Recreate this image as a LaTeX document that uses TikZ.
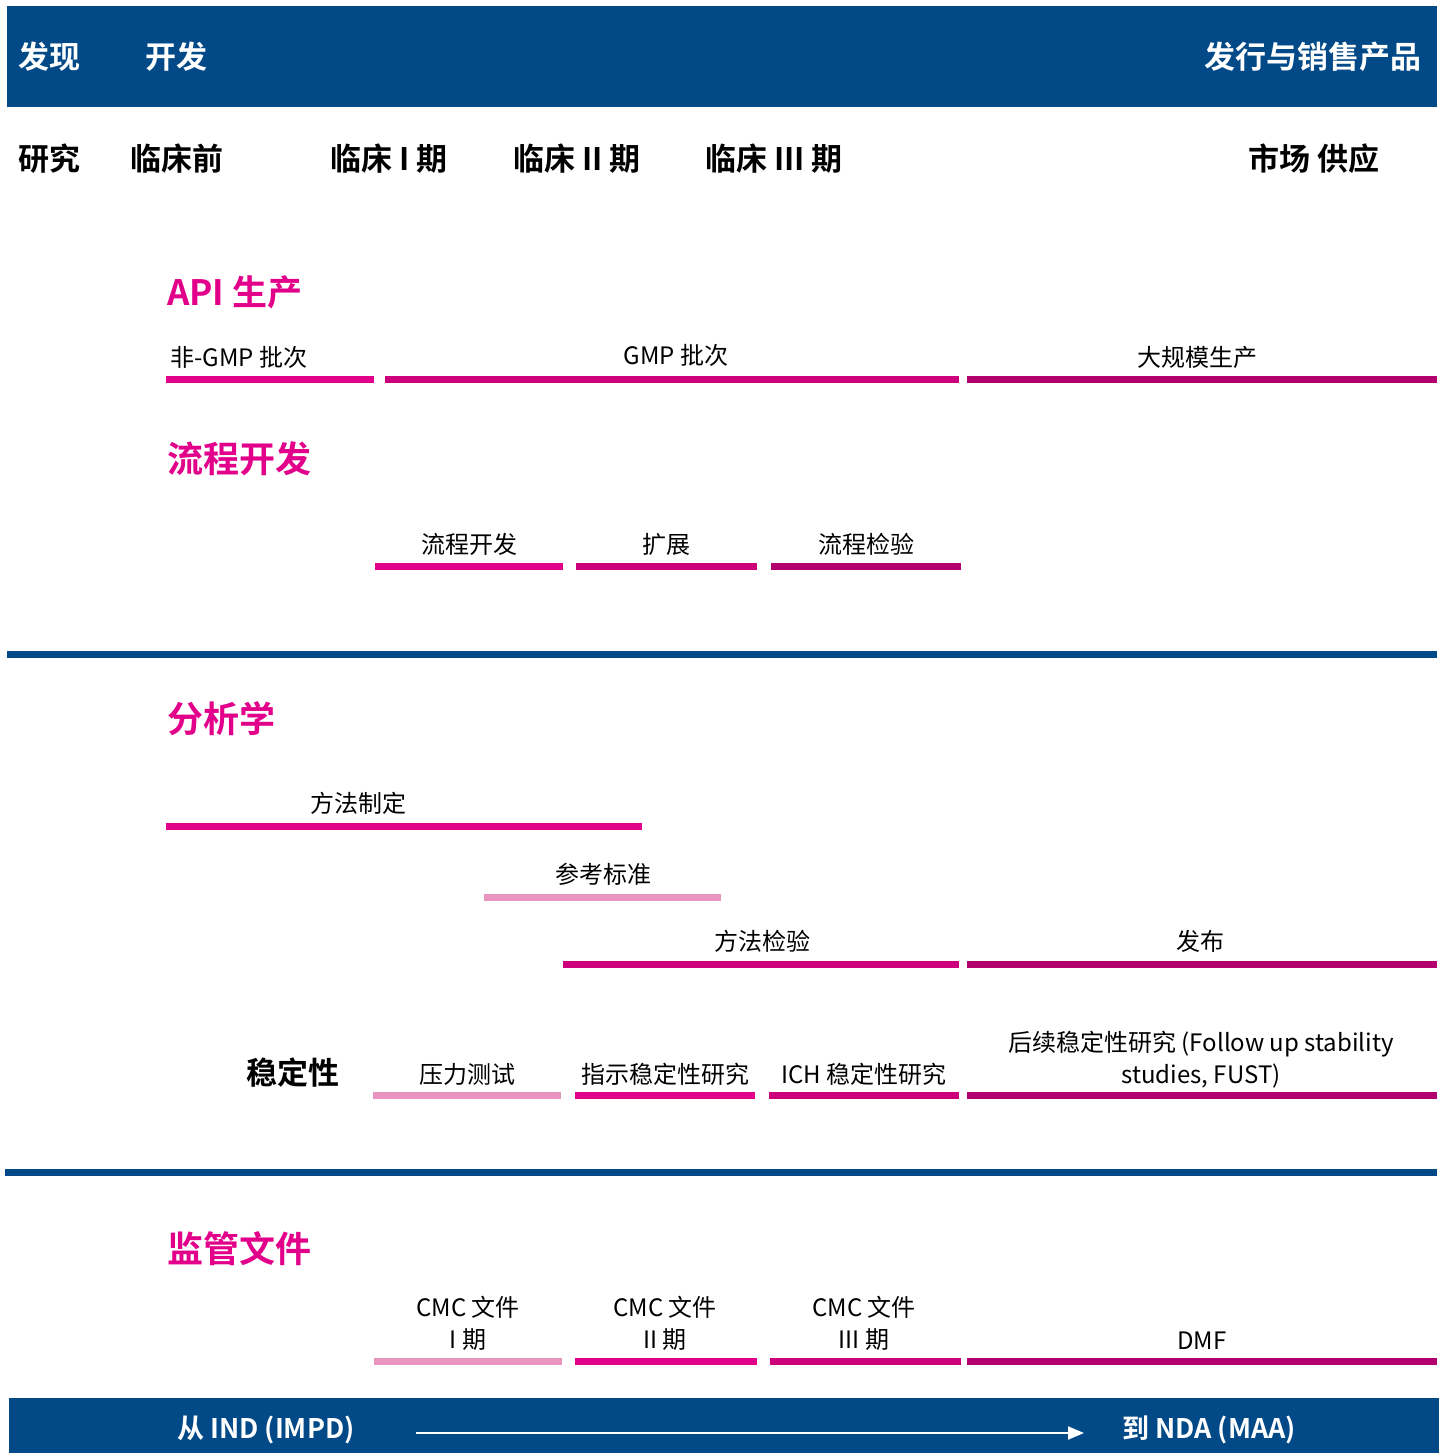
\documentclass[tikz,border=0pt]{standalone}
\usepackage{fontspec}
\setmainfont{Noto Sans CJK SC}[BoldFont={Noto Sans CJK SC Bold}]
\usetikzlibrary{arrows.meta}
\definecolor{navy}{RGB}{2,73,135}
\definecolor{magA}{RGB}{226,0,138}
\definecolor{magB}{RGB}{204,0,122}
\definecolor{magC}{RGB}{178,0,110}
\definecolor{pinkL}{RGB}{232,150,192}
\begin{document}
\begin{tikzpicture}[x=1pt,y=-1pt,
  txt/.style={inner sep=0pt,text height=#1*0.88pt,text depth=#1*0.12pt,font=\fontsize{#1}{#1}\selectfont},
  body/.style={txt=24,text=black},
  bandtxt/.style={txt=31,text=white,font=\fontsize{31}{31}\selectfont\bfseries},
  phase/.style={txt=31,text=black,font=\fontsize{31}{31}\selectfont\bfseries},
  heading/.style={txt=36,text=magA,font=\fontsize{36}{36}\selectfont\bfseries,anchor=west},
  bottomtxt/.style={txt=27,text=white,font=\fontsize{27}{27}\selectfont\bfseries},
  bar/.style={line width=7pt,draw=#1,line cap=butt},
  sep/.style={line width=7pt,draw=navy}]
\useasboundingbox (0,0) rectangle (1443,1453);
% top band
\fill[navy] (7,6) rectangle (1437,107);
\node[bandtxt,anchor=west] (disc) at (18,57) {发现};
\node[bandtxt,anchor=west] (dev) at (145,57) {开发};
\node[bandtxt,anchor=east] (launch) at (1422,57) {发行与销售产品};
% phases
\node[phase,anchor=west] (res) at (18,159) {研究};
\node[phase,anchor=west] (prec) at (130,159) {临床前};
\node[phase,anchor=west] (p1) at (330,159) {临床 I 期};
\node[phase,anchor=west] (p2) at (513,159) {临床 II 期};
\node[phase,anchor=west] (p3) at (705,159) {临床 III 期};
\node[phase,anchor=west] (mkt) at (1248,159) {市场 供应};
% API
\node[heading,txt=35,font=\fontsize{35}{35}\selectfont\bfseries] (api) at (167,292) {API 生产};
\node[body,anchor=west] (ngmp) at (170,357) {非-GMP 批次};
\node[body] (gmp) at (676,355) {GMP 批次};
\node[body] (large) at (1197,357) {大规模生产};
\draw[bar=magA] (166,379) -- (374,379);
\draw[bar=magB] (385,379) -- (959,379);
\draw[bar=magC] (967,379) -- (1437,379);
% process development
\node[heading] (pd) at (167,459) {流程开发};
\node[body] (pd1) at (469,544) {流程开发};
\node[body] (pd2) at (666,544) {扩展};
\node[body] (pd3) at (866,544) {流程检验};
\draw[bar=magA] (375,566) -- (563,566);
\draw[bar=magB] (576,566) -- (757,566);
\draw[bar=magC] (771,566) -- (961,566);
% separator
\draw[sep] (7,654) -- (1437,654);
% analytics
\node[heading] (ana) at (167,719) {分析学};
\node[body] (md) at (358,803) {方法制定};
\draw[bar=magA] (166,826) -- (642,826);
\node[body] (ref) at (603,874) {参考标准};
\draw[bar=pinkL] (484,897) -- (721,897);
\node[body] (mv) at (762,941) {方法检验};
\draw[bar=magB] (563,964) -- (959,964);
\node[body] (rel) at (1200,941) {发布};
\draw[bar=magC] (967,964) -- (1437,964);
% stability
\node[phase,anchor=west] (stab) at (246,1073) {稳定性};
\node[body] (s1) at (467,1074) {压力测试};
\node[body] (s2) at (665,1074) {指示稳定性研究};
\node[body] (s3) at (864,1074) {ICH 稳定性研究};
\node[body] (s4a) at (1201,1042) {后续稳定性研究 (Follow up stability};
\node[body] (s4b) at (1201,1074) {studies, FUST)};
\draw[bar=pinkL] (373,1095) -- (561,1095);
\draw[bar=magA] (575,1095) -- (755,1095);
\draw[bar=magB] (769,1095) -- (959,1095);
\draw[bar=magC] (967,1095) -- (1437,1095);
% separator
\draw[sep] (5,1172) -- (1437,1172);
% regulatory
\node[heading] (reg) at (167,1249) {监管文件};
\node[body] (c1a) at (468,1307) {CMC 文件};
\node[body] (c1b) at (468,1339) {I 期};
\node[body] (c2a) at (665,1307) {CMC 文件};
\node[body] (c2b) at (665,1339) {II 期};
\node[body] (c3a) at (864,1307) {CMC 文件};
\node[body] (c3b) at (864,1339) {III 期};
\node[body] (dmf) at (1202,1340) {DMF};
\draw[bar=pinkL] (374,1361) -- (562,1361);
\draw[bar=magA] (575,1361) -- (757,1361);
\draw[bar=magB] (770,1361) -- (961,1361);
\draw[bar=magC] (967,1361) -- (1437,1361);
% bottom band
\fill[navy] (9,1398) rectangle (1439,1453);
\node[bottomtxt,anchor=west] (ind) at (177,1428) {从 IND (IMPD)};
\node[bottomtxt,anchor=west] (nda) at (1122,1428) {到 NDA (MAA)};
\coordinate (arS) at (416,1433);
\coordinate (arE) at (1084,1433);
\draw[white,line width=2pt,-{Triangle[length=16pt,width=13pt]}] (arS) -- (arE);
\end{tikzpicture}
\end{document}
